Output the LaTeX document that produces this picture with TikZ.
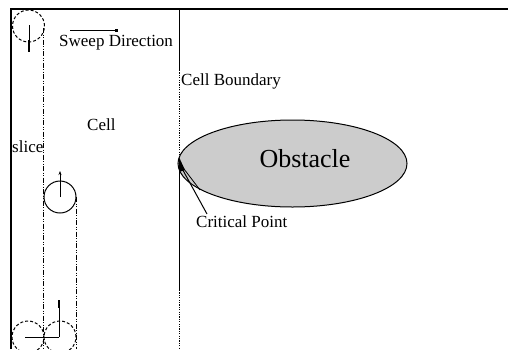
\documentclass[tikz,border=0pt]{standalone}
\usepackage{fontspec}
\setmainfont{Liberation Serif}
\usetikzlibrary{arrows.meta,shapes.geometric}
\begin{document}
\begin{tikzpicture}[x=1pt,y=-1pt,
  lbl/.style={inner sep=0pt,anchor=base west,font=\fontsize{17}{20}\selectfont},
  frame/.style={line width=1.4pt},
  slicepath/.style={line width=0.9pt,dash pattern=on 5pt off 1.5pt on 1pt off 1.5pt on 1pt off 1.5pt},
  robot/.style={line width=1pt},
  ghost/.style={line width=1pt,dash pattern=on 3pt off 2pt},
  tick/.style={line width=1pt},
  bound/.style={line width=1pt},
  dots/.style={line width=1pt,dash pattern=on 1.2pt off 1.2pt}]
\useasboundingbox (0,0) rectangle (508,349);
\fill[white] (0,0) rectangle (508,349);

% outer edge of the workspace
\draw[frame] (11,349) -- (11,9) -- (508,9);

% cell boundary through the critical point
\draw[bound] (179,9) -- (179,70);
\draw[dots] (179,70) -- (179,166);
\draw[bound] (179,166) -- (179,290);
\draw[dots] (179,290) -- (179,349);

% obstacle
\node[draw,line width=1pt,fill=black!20,ellipse,minimum width=229pt,minimum height=87pt,inner sep=0pt] (obs) at (292.5,163.5) {};
\node[inner sep=0pt,font=\fontsize{26}{30}\selectfont] (obstxt) at (305,159) {Obstacle};

% critical point marker
\coordinate (cp) at (179,163);
\coordinate (cplbl) at (207,214);
\fill (179,157) -- (185,170) -- (179,172) -- cycle;
\draw[line width=1pt] (cp) -- (cplbl);
\draw[line width=0.8pt] (181,165) -- (200,190);

% slice paths swept by the robot
\draw[slicepath] (43,28) -- (43,349);
\draw[slicepath] (76,197) -- (76,349);

% robot positions
\node[ghost,circle,draw,minimum size=32pt,inner sep=0pt] (r1) at (28.5,26) {};
\draw[tick] (29,25) -- (29,52);
\draw[line width=2.2pt] (29,40) -- (29,52);

\node[robot,circle,draw,minimum size=32pt,inner sep=0pt] (r2) at (60,197) {};
\coordinate (r2tip) at (60,171);
\draw[tick,-{Stealth[length=4pt,width=3pt]}] (r2.center) -- (r2tip);

\node[ghost,circle,draw,minimum size=32pt,inner sep=0pt] (r3) at (28,337) {};
\node[ghost,circle,draw,minimum size=32pt,inner sep=0pt] (r4) at (60,337) {};
\coordinate (r4tip) at (59,300);
\coordinate (r4left) at (25,337);
\draw[tick] (59,337) -- (r4tip);
\draw[line width=2.2pt] (59,300) -- (59,308);
\draw[tick] (r4left) -- (59,337);

% labels
\coordinate (sw0) at (70,30);
\coordinate (sw1) at (118,30);
\draw[line width=1pt,-{Square[length=3pt,width=3pt]}] (sw0) -- (sw1);
\node[lbl] (sweep) at (59,46) {Sweep Direction};
\node[lbl] (cell) at (87,130) {Cell};
\node[lbl] (slice) at (12,152) {slice};
\node[lbl] (cb) at (181,85) {Cell Boundary};
\node[lbl] (crit) at (196,227) {Critical Point};
\end{tikzpicture}
\end{document}
